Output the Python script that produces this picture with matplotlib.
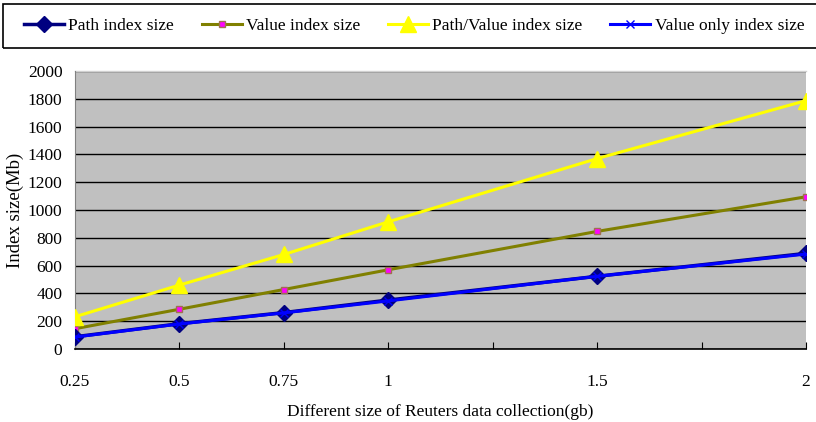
import matplotlib
matplotlib.use("Agg")
import matplotlib.pyplot as plt
from matplotlib.patches import Rectangle

plt.rcParams['font.family'] = ['Liberation Serif', 'DejaVu Serif']

sizes = [0.25, 0.5, 0.75, 1, 1.5, 2]
path_idx = [88, 182, 262, 352, 523, 688]
value_idx = [146, 286, 428, 570, 846, 1095]
path_value_idx = [232, 460, 680, 915, 1370, 1787]
value_only_idx = [86, 180, 260, 346, 523, 683]

fig = plt.figure(figsize=(8.16, 4.22), dpi=100)
ax = fig.add_axes([75 / 816, 1 - 349 / 422, (806 - 75) / 816, (349 - 71) / 422])

ax.set_facecolor('#c0c0c0')
ax.plot(sizes, value_idx, color='#808000', lw=2.2, marker='s', ms=5,
        mfc='#ff00ff', mec='#a07050', label='Value index size', zorder=3)
ax.plot(sizes, path_value_idx, color='#ffff00', lw=2.2, marker='^', ms=11,
        mfc='#ffff00', mec='#ffff00', label='Path/Value index size', zorder=3)
ax.plot(sizes, path_idx, color='#000080', lw=2.5, marker='D', ms=8,
        mfc='#000080', mec='#000080', label='Path index size', zorder=4)
ax.plot(sizes, value_only_idx, color='#0000ff', lw=2.2, marker='x', ms=6,
        mec='#0000ff', label='Value only index size', zorder=5)

ax.set_xlim(0.25, 2)
ax.set_ylim(0, 2000)
ax.set_yticks(range(0, 2001, 200))
ax.set_xticks([0.25, 0.5, 0.75, 1, 1.25, 1.5, 1.75, 2])
ax.set_xticklabels(['0.25', '0.5', '0.75', '1', '', '1.5', '', '2'])
ax.yaxis.grid(True, color='black', lw=1)
ax.set_axisbelow(True)
ax.tick_params(axis='x', direction='in', length=5, pad=18, labelsize=12.5)
ax.tick_params(axis='y', length=0, pad=9, labelsize=12.5)
for s in ['top', 'right']:
    ax.spines[s].set_visible(False)
ax.spines['left'].set_color('#808080')
ax.spines['bottom'].set_color('black')
ax.spines['bottom'].set_linewidth(1.2)
ax.plot([0.25, 2], [2000, 2000], color='#d0d0d0', lw=1, clip_on=False)

ax.set_xlabel('Different size of Reuters data collection(gb)', fontsize=12.5, labelpad=10)
ax.set_ylabel('Index size(Mb)', fontsize=13.5, labelpad=3)

# legend box across the top
fig.patches.append(Rectangle((3 / 816, 1 - 48 / 422), 820 / 816, 44 / 422,
                             transform=fig.transFigure, fill=False,
                             edgecolor='black', lw=1.2))
handles, labels = ax.get_legend_handles_labels()
order = [2, 0, 1, 3]
fig.legend([handles[i] for i in order], [labels[i] for i in order],
           loc='center', bbox_to_anchor=(414 / 816, 1 - 26 / 422), ncol=4,
           frameon=False, fontsize=12.5, handlelength=2.3, columnspacing=1.6,
           handletextpad=0.25)

fig.savefig('out.png', dpi=100)
